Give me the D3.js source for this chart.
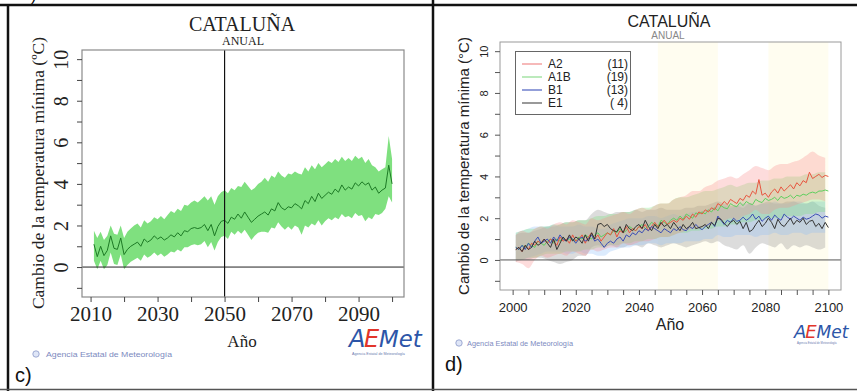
<!DOCTYPE html>
<html><head><meta charset="utf-8">
<script src="https://cdn.jsdelivr.net/npm/d3@7"></script>
<style>body{margin:0;background:#fff;} svg{display:block;}</style>
</head><body>
<svg id="chart" width="857" height="391"></svg>
<script>
// ---------- Panel c data (ensemble, 2011-2100) ----------
const yearsC = d3.range(2011, 2101);
const meanC = [1.1,0.5,1.0,0.55,0.8,1.5,0.9,0.85,1.4,0.6,
  0.85,1.0,1.1,1.2,1.0,1.35,1.2,1.3,1.5,1.35,
  1.45,1.3,1.4,1.55,1.45,1.65,1.5,1.75,1.7,1.85,
  1.9,1.85,1.9,2.05,1.75,2.05,1.5,1.95,2.2,2.25,
  2.1,2.4,2.3,2.55,2.35,2.65,2.4,2.15,2.3,2.45,
  2.55,2.65,2.5,2.8,2.7,3.1,2.85,2.75,2.9,2.85,
  3.05,2.95,2.8,3.2,3.05,3.4,3.15,3.55,3.3,3.45,
  3.6,3.5,3.75,3.6,3.95,3.7,3.85,3.75,4.05,3.9,
  4.1,3.95,4.05,3.7,3.85,3.55,3.7,3.8,4.9,4.0];
const upperC = [1.75,1.4,1.7,1.3,1.5,2.0,1.6,1.55,2.0,1.4,
  1.7,1.85,2.0,2.1,1.9,2.25,2.1,2.2,2.4,2.3,
  2.45,2.3,2.5,2.7,2.6,2.8,2.7,3.0,2.95,3.1,
  3.2,3.1,3.25,3.4,3.2,3.4,3.0,3.4,3.6,3.7,
  3.55,3.8,3.7,3.9,3.85,4.1,3.9,3.7,3.8,4.0,
  4.1,4.3,4.1,4.4,4.3,4.6,4.4,4.3,4.5,4.45,
  4.6,4.5,4.45,4.8,4.6,4.9,4.7,5.0,4.8,4.95,
  5.1,5.0,5.2,5.05,5.3,5.1,5.25,5.1,5.35,5.2,
  5.3,5.0,5.2,4.9,4.8,4.6,4.7,4.8,6.3,5.2];
const lowerC = [0.3,-0.1,0.3,-0.1,0.1,0.7,0.15,0.1,0.6,-0.1,
  0.1,0.25,0.35,0.45,0.3,0.6,0.45,0.55,0.7,0.55,
  0.65,0.5,0.6,0.75,0.7,0.85,0.75,0.95,0.95,1.05,
  1.1,1.05,1.1,1.25,0.95,1.2,0.8,1.2,1.45,1.5,
  1.35,1.7,1.55,1.75,1.6,1.8,1.55,1.3,1.5,1.65,
  1.7,1.7,1.65,1.9,1.85,2.15,1.95,1.8,1.95,1.8,
  2.0,1.9,1.55,2.0,1.9,2.1,2.0,2.25,2.0,2.2,
  2.35,2.25,2.4,2.3,2.55,2.4,2.45,2.35,2.6,2.45,
  2.5,2.2,2.4,2.3,2.55,2.5,2.6,2.8,3.4,3.1];

// ---------- Panel d data (scenarios, 2001-2100) ----------
const yearsD = d3.range(2001, 2101);
const a2 = [0.5,0.6,0.4,0.7,0.5,0.8,0.7,0.9,0.8,1.0,
  0.8,1.0,0.9,0.7,1.1,0.9,1.0,0.8,1.2,0.9,
  1.0,1.2,0.8,1.1,1.3,1.0,1.2,0.9,1.1,1.3,
  1.2,1.5,1.1,1.4,1.3,1.6,1.3,1.5,1.4,1.6,
  1.5,1.7,1.4,1.6,1.8,1.6,1.7,1.9,1.7,1.8,
  1.9,1.8,2.0,1.9,2.1,1.95,2.2,2.05,2.3,2.2,
  2.4,2.3,2.5,2.4,2.7,2.6,2.8,2.65,2.9,2.8,
  2.7,2.95,2.85,3.1,3.0,3.3,3.15,3.85,3.1,3.2,
  3.0,3.25,3.4,3.2,3.5,3.3,3.45,3.6,3.4,3.7,
  3.55,3.8,3.7,4.2,3.9,4.0,4.1,3.95,4.05,4.0];
const a1b = [0.6,0.5,0.7,0.6,0.8,0.7,0.6,0.9,0.8,0.7,
  0.9,1.0,0.8,1.0,0.9,1.1,0.9,1.0,1.0,0.9,
  1.1,1.0,1.2,1.1,1.0,1.2,1.3,1.1,1.2,1.3,
  1.2,1.4,1.3,1.5,1.3,1.4,1.6,1.5,1.4,1.6,
  1.7,1.5,1.6,1.8,1.7,1.6,1.9,1.8,1.7,1.9,
  2.0,1.9,2.1,1.95,2.2,2.1,2.0,2.25,2.2,2.3,
  2.2,2.4,2.3,2.5,2.35,2.6,2.5,2.45,2.7,2.6,
  2.55,2.75,2.6,2.8,2.7,2.65,2.9,2.8,2.75,2.95,
  2.85,2.9,3.0,2.85,3.05,2.95,3.0,3.1,2.95,3.1,
  3.05,3.15,3.1,3.2,3.25,3.2,3.3,3.3,3.35,3.3];
const b1 = [0.6,0.5,0.7,0.5,0.8,0.6,0.9,1.1,0.8,0.9,
  1.0,0.8,1.1,0.9,1.2,1.0,0.9,1.1,1.0,0.8,
  1.0,1.1,0.9,1.0,1.2,0.9,1.0,0.8,0.6,0.8,
  0.9,0.8,1.0,1.1,0.9,1.2,1.1,1.3,1.2,1.4,
  1.3,1.5,1.4,1.6,1.5,1.4,1.3,1.5,1.4,1.3,
  1.5,1.4,1.6,1.45,1.4,1.6,1.5,1.7,1.55,1.45,
  1.6,1.7,1.8,1.6,2.1,1.9,1.7,1.9,1.8,2.0,
  1.85,1.9,2.05,1.9,2.0,2.2,1.95,2.1,1.85,2.0,
  2.1,1.9,2.15,2.0,1.9,2.2,2.05,1.95,2.1,2.0,
  1.9,2.05,1.95,2.0,2.1,2.2,2.15,2.0,2.1,2.05];
const e1 = [0.5,0.6,0.4,0.7,0.5,0.6,0.9,0.7,0.8,1.0,
  0.8,0.6,1.0,0.5,0.8,1.1,0.9,1.2,0.9,1.1,
  1.0,0.8,1.2,0.9,1.3,1.0,1.7,1.75,1.6,1.7,
  1.5,1.4,1.35,1.6,1.3,1.7,1.5,1.4,1.6,1.7,
  1.5,1.9,1.6,1.4,1.7,1.5,1.8,1.6,1.7,1.5,
  1.8,1.6,1.4,1.7,1.5,1.6,1.8,1.5,1.55,1.6,
  1.7,1.5,1.8,1.65,2.0,1.95,1.75,1.6,1.8,1.9,
  1.7,1.85,1.5,1.8,1.35,1.45,1.7,1.9,1.6,1.75,
  2.0,1.8,1.5,1.95,1.7,1.6,1.8,2.0,1.7,1.9,
  1.8,2.0,1.7,1.85,1.9,1.6,1.75,1.5,1.8,1.55];

// spread bands (every 2 years: 2001, 2003, ... 2099)
const bandYearsD = d3.range(2001, 2100, 2);
const a2Up = [1.2,1.4,1.3,1.5,1.6,1.5,1.7,1.8,1.7,1.9,1.8,1.7,2.0,1.9,2.0,2.1,2.2,2.3,2.2,2.4,2.5,2.4,2.6,2.7,2.7,2.9,3.0,3.1,3.3,3.3,3.5,3.6,3.8,3.9,4.0,3.9,4.1,4.3,4.5,4.4,4.3,4.5,4.6,4.6,4.7,4.8,5.0,5.2,5.0,4.9];
const a2Lo = [-0.1,-0.2,-0.4,0.0,0.2,0.1,0.2,0.3,0.2,0.4,0.3,0.2,0.5,0.4,0.5,0.6,0.6,0.8,0.7,0.8,0.9,0.9,1.0,1.1,1.1,1.2,1.3,1.4,1.5,1.5,1.6,1.7,1.9,1.9,2.0,1.9,2.1,2.2,2.4,2.2,2.2,2.4,2.5,2.5,2.6,2.7,2.8,2.9,2.9,2.8];
const a1bUp = [1.3,1.4,1.5,1.5,1.6,1.6,1.7,1.7,1.8,1.8,1.9,1.9,2.0,2.1,2.1,2.2,2.2,2.3,2.3,2.4,2.5,2.5,2.6,2.7,2.7,2.9,3.0,3.0,3.1,3.2,3.3,3.3,3.4,3.5,3.6,3.5,3.6,3.7,3.7,3.8,3.8,3.9,3.9,4.0,4.0,4.0,4.1,4.1,4.2,4.2];
const a1bLo = [0.0,0.0,0.1,0.1,0.2,0.3,0.3,0.3,0.4,0.4,0.4,0.5,0.5,0.6,0.6,0.7,0.7,0.8,0.8,0.9,0.9,1.0,1.0,1.1,1.1,1.2,1.3,1.3,1.4,1.4,1.5,1.5,1.6,1.6,1.7,1.7,1.8,1.8,1.9,1.9,2.0,2.0,2.0,2.1,2.1,2.1,2.2,2.2,2.3,2.3];
const b1Up = [1.3,1.4,1.5,1.6,1.6,1.6,1.7,1.6,1.6,1.6,1.7,1.6,1.6,1.5,1.5,1.7,1.8,1.9,2.0,2.0,2.0,2.1,2.1,2.0,2.1,2.2,2.1,2.2,2.3,2.3,2.4,2.5,2.6,2.6,2.5,2.6,2.7,2.7,2.6,2.7,2.7,2.8,2.7,2.7,2.8,2.8,2.7,2.8,2.8,2.8];
const b1Lo = [0.0,0.0,0.1,0.2,0.3,0.4,0.4,0.4,0.3,0.3,0.4,0.3,0.3,0.2,0.2,0.4,0.5,0.6,0.6,0.7,0.7,0.8,0.8,0.7,0.8,0.8,0.8,0.9,0.9,0.9,1.0,1.0,1.2,1.1,1.1,1.2,1.2,1.2,1.1,1.2,1.2,1.3,1.2,1.2,1.3,1.3,1.2,1.3,1.3,1.3];
const e1Up = [1.2,1.3,1.3,1.4,1.5,1.6,1.6,1.7,1.8,1.8,1.9,1.9,2.2,2.4,2.3,2.2,2.3,2.3,2.3,2.4,2.3,2.4,2.4,2.5,2.4,2.4,2.4,2.5,2.5,2.6,2.6,2.7,2.8,2.7,2.6,2.6,2.5,2.7,2.6,2.7,2.8,2.7,2.7,2.8,2.8,2.7,2.7,2.8,2.6,2.5];
const e1Lo = [-0.1,0.0,0.0,0.1,0.1,0.0,-0.1,-0.2,-0.1,0.0,0.2,0.2,0.6,0.7,0.6,0.7,0.6,0.6,0.7,0.7,0.6,0.8,0.7,0.6,0.7,0.8,0.7,0.6,0.7,0.8,0.9,0.8,0.9,0.7,0.6,0.5,0.7,0.3,0.6,0.8,0.7,0.6,0.8,0.5,0.7,0.6,0.7,0.6,0.5,0.6];

const scenNames = ["A2", "A1B", "B1", "E1"];
const scenCounts = ["(11)", "(19)", "(13)", "( 4)"];
const periodsD = [[2046, 2065], [2081, 2100]];

// ticks
const yTicks = d3.range(-1, 11);
const yLabels = [0, 2, 4, 6, 8, 10];
const xTicksC = d3.range(2010, 2101, 10);
const xLabelsC = [2010, 2030, 2050, 2070, 2090];
const xTicksD = d3.range(2000, 2101, 5);
const xLabelsD = [2000, 2020, 2040, 2060, 2080, 2100];
const title = "CATALUÑA", subtitle = "ANUAL";

// ---------- drawing ----------
const svg = d3.select("#chart");
const serif = "'Liberation Serif','Times New Roman',serif";
const sans = "'Liberation Sans',Arial,sans-serif";

// outer frame
svg.append("line").attr("x1",0).attr("x2",857).attr("y1",5).attr("y2",5).attr("stroke","#111").attr("stroke-width",2.5);
svg.append("line").attr("x1",8).attr("x2",8).attr("y1",4).attr("y2",391).attr("stroke","#111").attr("stroke-width",2.5);
svg.append("line").attr("x1",433).attr("x2",433).attr("y1",0).attr("y2",391).attr("stroke","#111").attr("stroke-width",2.5);
svg.append("line").attr("x1",0).attr("x2",857).attr("y1",389.5).attr("y2",389.5).attr("stroke","#555").attr("stroke-width",1.5);
svg.append("text").attr("x",31).attr("y",1).attr("font-family",sans).attr("font-size",16).text(")");

function logo(g, x, y, size) {
  const f = "'DejaVu Sans',sans-serif";
  g.append("text").attr("x", x).attr("y", y).attr("font-family",f).attr("font-style","italic").attr("font-size", size).attr("fill","#2c55a8").text("A");
  g.append("text").attr("x", x + size*0.62).attr("y", y).attr("font-family",f).attr("font-style","italic").attr("font-size", size).attr("fill","#e2352a").text("E");
  g.append("text").attr("x", x + size*1.25).attr("y", y).attr("font-family",f).attr("font-style","italic").attr("font-size", size*0.95).attr("fill","#2c55a8").text("Met");
  g.append("text").attr("x", x + 3).attr("y", y + size*0.32).attr("font-family",sans).attr("font-size", 3.2)
    .attr("fill","#6a78b0").attr("textLength", size*2.2).attr("lengthAdjust","spacingAndGlyphs").text("Agencia Estatal de Meteorología");
}
function credit(g, cx, cy, x, w, fs) {
  g.append("circle").attr("cx",cx).attr("cy",cy).attr("r",3.2).attr("fill","#dfe6f7").attr("stroke","#8a98c8").attr("stroke-width",0.8);
  g.append("text").attr("x",x).attr("y",cy+2.5).attr("font-family",sans).attr("font-size",fs).attr("fill","#7c8ac0")
    .attr("textLength",w).attr("lengthAdjust","spacingAndGlyphs").text("Agencia Estatal de Meteorología");
}

// ===== Panel c =====
{
  const L = 82, R = 404, T = 50, B = 297;
  const x = d3.scaleLinear().domain([2007.44, 2103.56]).range([L, R]);
  const y = d3.scaleLinear().domain([-1.44, 10.44]).range([B, T]);
  const g = svg.append("g");
  const idx = d3.range(yearsC.length);
  g.append("path").datum(idx).attr("fill","#7fe07f").attr("stroke","none")
    .attr("d", d3.area().x(i => x(yearsC[i])).y0(i => y(lowerC[i])).y1(i => y(upperC[i])));
  g.append("path").datum(idx).attr("fill","none").attr("stroke","#1d7a25").attr("stroke-width",1)
    .attr("d", d3.line().x(i => x(yearsC[i])).y(i => y(meanC[i])));
  g.append("line").attr("x1",L).attr("x2",R).attr("y1",y(0)).attr("y2",y(0)).attr("stroke","#222").attr("stroke-width",1);
  g.append("line").attr("x1",x(2050)).attr("x2",x(2050)).attr("y1",T).attr("y2",B).attr("stroke","#111").attr("stroke-width",1.2);
  g.append("rect").attr("x",L).attr("y",T).attr("width",R-L).attr("height",B-T).attr("fill","none").attr("stroke","#8a8a8a").attr("stroke-width",1.2);

  const ax = g.append("g").attr("transform",`translate(0,${B})`)
    .call(d3.axisBottom(x).tickValues(xTicksC).tickSize(5).tickFormat(d => xLabelsC.includes(d) ? d : ""));
  ax.select(".domain").remove();
  ax.selectAll("line").attr("stroke","#444");
  ax.selectAll("text").attr("y",24).attr("dy",0).attr("font-family",serif).attr("font-size",21).attr("fill","#222");
  const ay = g.append("g").attr("transform",`translate(${L},0)`)
    .call(d3.axisLeft(y).tickValues(yTicks).tickSize(5).tickFormat(d => yLabels.includes(d) ? d : ""));
  ay.select(".domain").remove();
  ay.selectAll("line").attr("stroke","#444");
  ay.selectAll("text").attr("x",0).attr("y",-14).attr("dy",0).attr("text-anchor","middle").attr("transform","rotate(-90)")
    .attr("font-family",serif).attr("font-size",20).attr("fill","#222");

  g.append("text").attr("x",242).attr("y",31).attr("text-anchor","middle").attr("font-family",serif).attr("font-size",20).attr("fill","#222").text(title);
  g.append("text").attr("x",243).attr("y",45).attr("text-anchor","middle").attr("font-family",serif).attr("font-size",12).attr("fill","#222").text(subtitle);
  g.append("text").attr("transform","translate(44,173) rotate(-90)").attr("text-anchor","middle").attr("font-family",serif).attr("font-size",17.5).attr("fill","#222").text("Cambio de la temperatura mínima (ºC)");
  g.append("text").attr("x",242).attr("y",347).attr("text-anchor","middle").attr("font-family",serif).attr("font-size",17).attr("fill","#222").text("Año");
  credit(g, 36, 354, 46, 126, 7.5);
  logo(g, 349, 347, 24);
  g.append("text").attr("x",15).attr("y",382).attr("font-family",sans).attr("font-size",20).attr("fill","#111").text("c)");
}

// ===== Panel d =====
{
  const L = 500, R = 841, T = 42, B = 290;
  const x = d3.scaleLinear().domain([1996, 2104]).range([L, R]);
  const y = d3.scaleLinear().domain([-1.44, 10.44]).range([B, T]);
  const g = svg.append("g");
  periodsD.forEach(p => g.append("rect").attr("x",x(p[0])).attr("y",T).attr("width",x(p[1])-x(p[0])).attr("height",B-T).attr("fill","#fffdf0"));

  const bands = [
    {lo:e1Lo, up:e1Up, fill:"rgba(140,140,140,0.30)"},
    {lo:b1Lo, up:b1Up, fill:"rgba(140,190,250,0.30)"},
    {lo:a1bLo, up:a1bUp, fill:"rgba(120,225,120,0.30)"},
    {lo:a2Lo, up:a2Up, fill:"rgba(250,140,140,0.30)"}
  ];
  const bi = d3.range(bandYearsD.length);
  bands.forEach(b => g.append("path").datum(bi).attr("fill",b.fill)
    .attr("d", d3.area().x(i => x(bandYearsD[i])).y0(i => y(b.lo[i])).y1(i => y(b.up[i])).curve(d3.curveMonotoneX)));

  const series = [
    {v:a1b, c:"#5fcf5f"}, {v:a2, c:"#e8553f"}, {v:b1, c:"#3a4db5"}, {v:e1, c:"#333333"}
  ];
  const li = d3.range(yearsD.length);
  series.forEach(s => g.append("path").datum(li).attr("fill","none").attr("stroke",s.c).attr("stroke-width",1)
    .attr("d", d3.line().x(i => x(yearsD[i])).y(i => y(s.v[i]))));
  g.append("line").attr("x1",L).attr("x2",R).attr("y1",y(0)).attr("y2",y(0)).attr("stroke","#555").attr("stroke-width",1);
  g.append("rect").attr("x",L).attr("y",T).attr("width",R-L).attr("height",B-T).attr("fill","none").attr("stroke","#9a9a9a").attr("stroke-width",1);

  const ax = g.append("g").attr("transform",`translate(0,${B})`)
    .call(d3.axisBottom(x).tickValues(xTicksD).tickSize(5).tickFormat(d => xLabelsD.includes(d) ? d : ""));
  ax.select(".domain").remove();
  ax.selectAll("line").attr("stroke","#555");
  ax.selectAll("text").attr("y",22).attr("dy",0).attr("font-family",sans).attr("font-size",13).attr("fill","#222");
  const ay = g.append("g").attr("transform",`translate(${L},0)`)
    .call(d3.axisLeft(y).tickValues(yTicks).tickSize(5).tickFormat(d => yLabels.includes(d) ? d : ""));
  ay.select(".domain").remove();
  ay.selectAll("line").attr("stroke","#555");
  ay.selectAll("text").attr("x",0).attr("y",-12).attr("dy",0).attr("text-anchor","middle").attr("transform","rotate(-90)")
    .attr("font-family",sans).attr("font-size",11).attr("fill","#222");

  g.append("text").attr("x",669).attr("y",27).attr("text-anchor","middle").attr("font-family",sans).attr("font-size",16).attr("fill","#222").text(title);
  g.append("text").attr("x",668).attr("y",39).attr("text-anchor","middle").attr("font-family",sans).attr("font-size",10).attr("fill","#888").text(subtitle);
  g.append("text").attr("transform","translate(469,166) rotate(-90)").attr("text-anchor","middle").attr("font-family",sans).attr("font-size",15).attr("fill","#222").text("Cambio de la temperatura mínima (°C)");
  g.append("text").attr("x",670).attr("y",330).attr("text-anchor","middle").attr("font-family",sans).attr("font-size",16).attr("fill","#222").text("Año");

  // legend
  const legCols = ["#f08a8a", "#8fdc8f", "#4a5fc0", "#555555"];
  g.append("rect").attr("x",515.5).attr("y",51.5).attr("width",115).attr("height",63).attr("fill","#fff").attr("stroke","#666").attr("stroke-width",1);
  scenNames.forEach((n, i) => {
    const yy = 64 + i*13;
    g.append("line").attr("x1",522).attr("x2",542).attr("y1",yy).attr("y2",yy).attr("stroke",legCols[i]).attr("stroke-width",1.2);
    g.append("text").attr("x",548).attr("y",yy+4).attr("font-family",sans).attr("font-size",12).attr("fill","#222").text(n);
    g.append("text").attr("x",628).attr("y",yy+4).attr("text-anchor","end").attr("font-family",sans).attr("font-size",12).attr("fill","#222").attr("xml:space","preserve").style("white-space","pre").text(scenCounts[i]);
  });
  credit(g, 459, 343, 467, 106, 6.5);
  logo(g, 794, 338, 18);
  g.append("text").attr("x",445).attr("y",371).attr("font-family",sans).attr("font-size",20).attr("fill","#111").text("d)");
}
</script>
</body></html>
